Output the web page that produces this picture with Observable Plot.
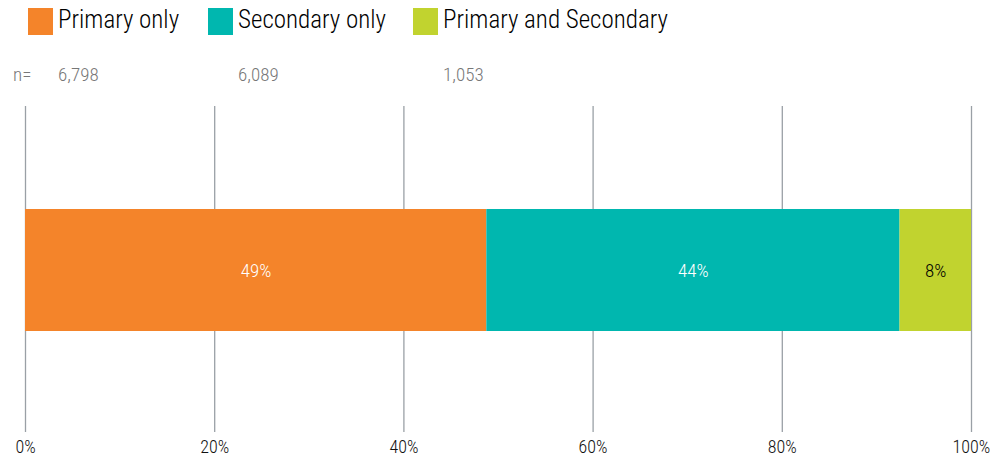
<!DOCTYPE html>
<html>
<head>
<meta charset="utf-8">
<script src="https://cdn.jsdelivr.net/npm/d3@7"></script>
<script src="https://cdn.jsdelivr.net/npm/@observablehq/plot@0.6"></script>
<style>
  html, body { margin: 0; padding: 0; background: #fff; }
  body { width: 1006px; height: 463px; overflow: hidden;
         font-family: "Liberation Sans Narrow", "Roboto Condensed", "DejaVu Sans Condensed", sans-serif; }
  #head { position: relative; height: 100px; }
  .sw { position: absolute; top: 8px; width: 25px; height: 27px; }
  .lt { position: absolute; top: 5px; font-size: 25px; font-weight: 300; color: #000; white-space: nowrap; line-height: 30px; }
  .nt { position: absolute; top: 63px; font-size: 19px; font-weight: 300; color: #777; white-space: nowrap; line-height: 24px; }
</style>
</head>
<body>
<div id="head"></div>
<div id="chart"></div>
<script>
const categories = ["Primary only", "Secondary only", "Primary and Secondary"];
const counts = [6798, 6089, 1053];
const colors = ["#F4842A", "#00B7AF", "#C1D32F"];
const xTicks = [0, 0.2, 0.4, 0.6, 0.8, 1];
const nPrefix = "n=";

const total = d3.sum(counts);
const data = categories.map((c, i) => ({category: c, count: counts[i], share: counts[i] / total, idx: i}));

// Legend and n= row (HTML above the SVG)
const head = document.getElementById("head");
const swatchX = [28, 208, 413];
const textX = [58, 238, 443];
categories.forEach((c, i) => {
  const s = document.createElement("div");
  s.className = "sw"; s.style.left = swatchX[i] + "px"; s.style.background = colors[i];
  head.appendChild(s);
  const t = document.createElement("div");
  t.className = "lt"; t.style.left = textX[i] + "px"; t.textContent = c;
  head.appendChild(t);
  const n = document.createElement("div");
  n.className = "nt"; n.style.left = textX[i] + "px"; n.textContent = d3.format(",")(counts[i]);
  head.appendChild(n);
});
const np = document.createElement("div");
np.className = "nt"; np.style.left = "13px"; np.textContent = nPrefix;
head.appendChild(np);

const fmtPct = d => Math.round(d * 100) + "%";

const chart = Plot.plot({
  width: 1006,
  height: 363,
  marginLeft: 25,
  marginRight: 35,
  marginTop: 6,
  marginBottom: 31,
  style: {fontFamily: '"Liberation Sans Narrow", "Roboto Condensed", "DejaVu Sans Condensed", sans-serif', background: "#fff"},
  x: {domain: [0, 1], axis: null, label: null},
  y: {domain: ["all"], range: [109, 231], padding: 0, axis: null},
  color: {domain: categories, range: colors},
  marks: [
    Plot.gridX(xTicks, {stroke: "#9aa0a6", strokeOpacity: 1, strokeWidth: 1.3}),
    Plot.barX(data, Plot.stackX({x: "share", y: () => "all", fill: "category", order: null})),
    Plot.text(data, Plot.stackX({x: "share", y: () => "all", order: null, text: d => fmtPct(d.share),
      fill: d => d.idx < 2 ? "white" : "black", fontSize: 19, fontWeight: 300})),
    Plot.axisX(xTicks, {tickSize: 0, tickPadding: 8, tickFormat: fmtPct, fontSize: 18, fontWeight: 300, fill: "#111", label: null})
  ]
});
document.getElementById("chart").appendChild(chart);
</script>
</body>
</html>
